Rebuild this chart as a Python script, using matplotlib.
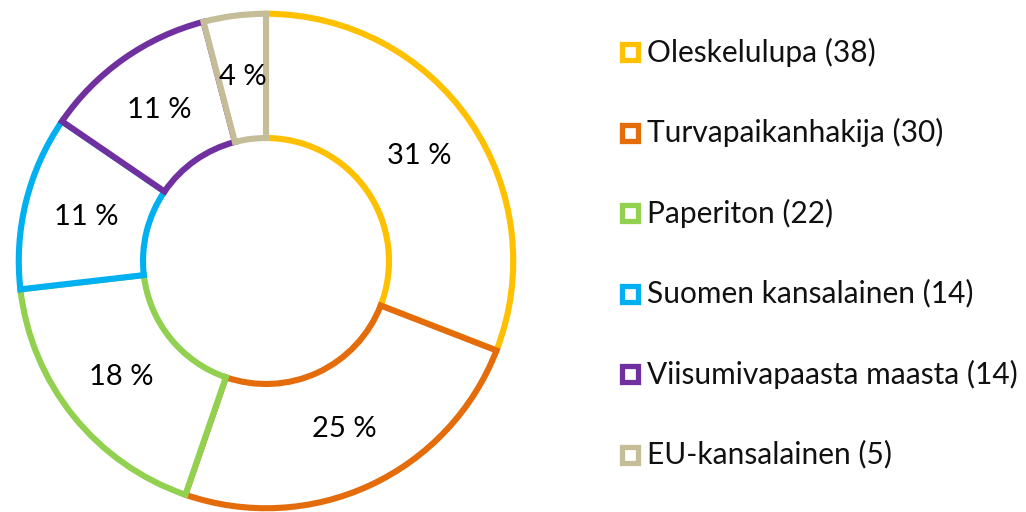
import matplotlib.pyplot as plt
from matplotlib.lines import Line2D
import numpy as np

# data
labels = ["Oleskelulupa", "Turvapaikanhakija", "Paperiton",
          "Suomen kansalainen", "Viisumivapaasta maasta", "EU-kansalainen"]
counts = [38, 30, 22, 14, 14, 5]
pct_labels = ["31 %", "25 %", "18 %", "11 %", "11 %", "4 %"]
colors = ["#FFC000", "#E46C0A", "#92D050", "#00B0F0", "#7030A0", "#C4BD97"]

plt.rcParams['font.family'] = ['Lato', 'DejaVu Sans']

W, H = 1026, 512
fig = plt.figure(figsize=(W / 100, H / 100), dpi=100)

# donut
R = 251
cx, cy = 266, 261
ax = fig.add_axes([(cx - R) / W, (H - cy - R) / H, 2 * R / W, 2 * R / H])
inner = 0.49
wedges, _ = ax.pie(counts, radius=0.985, startangle=90, counterclock=False,
                   colors=["white"] * len(counts),
                   wedgeprops=dict(width=0.985 - inner, linewidth=4.4))
for w, c in zip(wedges, colors):
    w.set_edgecolor(c)

total = sum(counts)
ang = 90
rmid = (0.985 + inner) / 2
for n, lab in zip(counts, pct_labels):
    span = n / total * 360
    mid = np.deg2rad(ang - span / 2)
    ax.text(rmid * np.cos(mid), rmid * np.sin(mid), lab, ha="center", va="center",
            fontsize=21, color="#000000")
    ang -= span
ax.set_xlim(-1, 1)
ax.set_ylim(-1, 1)
ax.set_aspect("equal")
ax.axis("off")

# legend
y0, dy = 52, 80.5
for i, (lab, n, c) in enumerate(zip(labels, counts, colors)):
    y = 1 - (y0 + i * dy) / H
    fig.add_artist(Line2D([630 / W], [y], marker="s", markersize=11,
                          markerfacecolor="white", markeredgecolor=c,
                          markeredgewidth=3.8, transform=fig.transFigure))
    fig.text(647 / W, y, f"{lab} ({n})", ha="left", va="center",
             fontsize=21.5, color="#111111")

fig.savefig("out.png", dpi=100, facecolor="white")
